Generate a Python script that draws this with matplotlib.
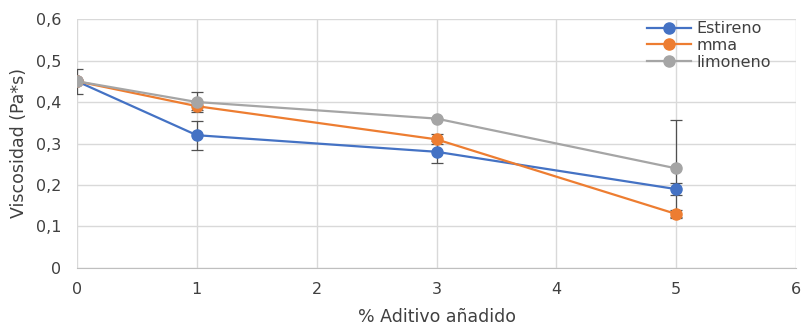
import numpy as np
import matplotlib.pyplot as plt
from matplotlib.ticker import FuncFormatter

plt.rcParams['font.family'] = ['DejaVu Sans']

aditivo = [0, 1, 3, 5]
estireno = [0.45, 0.32, 0.28, 0.19]
estireno_err = [0.0, 0.035, 0.027, 0.015]
mma = [0.45, 0.39, 0.31, 0.13]
mma_err = [0.0, 0.01, 0.012, 0.01]
limoneno = [0.45, 0.40, 0.36, 0.24]
limoneno_err = [0.03, 0.025, 0.0, 0.117]

series = [
    ("Estireno", estireno, estireno_err, "#4472C4"),
    ("mma", mma, mma_err, "#ED7D31"),
    ("limoneno", limoneno, limoneno_err, "#A5A5A5"),
]
text_color = "#404040"

fig = plt.figure(figsize=(8.01, 3.28), dpi=100)
ax = fig.add_axes([0.096, 0.183, 0.898, 0.759])

for name, y, err, color in series:
    ax.errorbar(aditivo, y, yerr=err, fmt="none", ecolor="#505050",
                elinewidth=0.9, capsize=4, capthick=0.9, zorder=2)
for name, y, err, color in series:
    ax.plot(aditivo, y, color=color, marker="o", markersize=8,
            linewidth=1.6, label=name, zorder=3)

ax.set_xlim(0, 6)
ax.set_ylim(0, 0.6)
ax.set_xticks(range(7))
ax.set_yticks(np.arange(0, 0.61, 0.1))
ax.yaxis.set_major_formatter(FuncFormatter(
    lambda v, p: "0" if abs(v) < 1e-9 else f"{v:.1f}".replace(".", ",")))
ax.grid(True, color="#D9D9D9", linewidth=1)
ax.set_axisbelow(True)
for s in ["top", "right", "left"]:
    ax.spines[s].set_visible(False)
ax.spines["bottom"].set_color("#BFBFBF")
ax.tick_params(axis="y", length=0, labelsize=11.5, colors=text_color, pad=11)
ax.tick_params(axis="x", length=0, labelsize=11.5, colors=text_color, pad=10)

ax.set_xlabel("% Aditivo añadido", fontsize=12.5, color=text_color, labelpad=8)
ax.set_ylabel("Viscosidad (Pa*s)", fontsize=12.5, color=text_color, labelpad=6)

leg = ax.legend(loc="upper right", bbox_to_anchor=(0.98, 1.035), frameon=False,
                fontsize=11.5, handlelength=2.8, handletextpad=0.3,
                labelspacing=0.1, borderpad=0.2, labelcolor=text_color)

fig.savefig("out.png", dpi=100)
